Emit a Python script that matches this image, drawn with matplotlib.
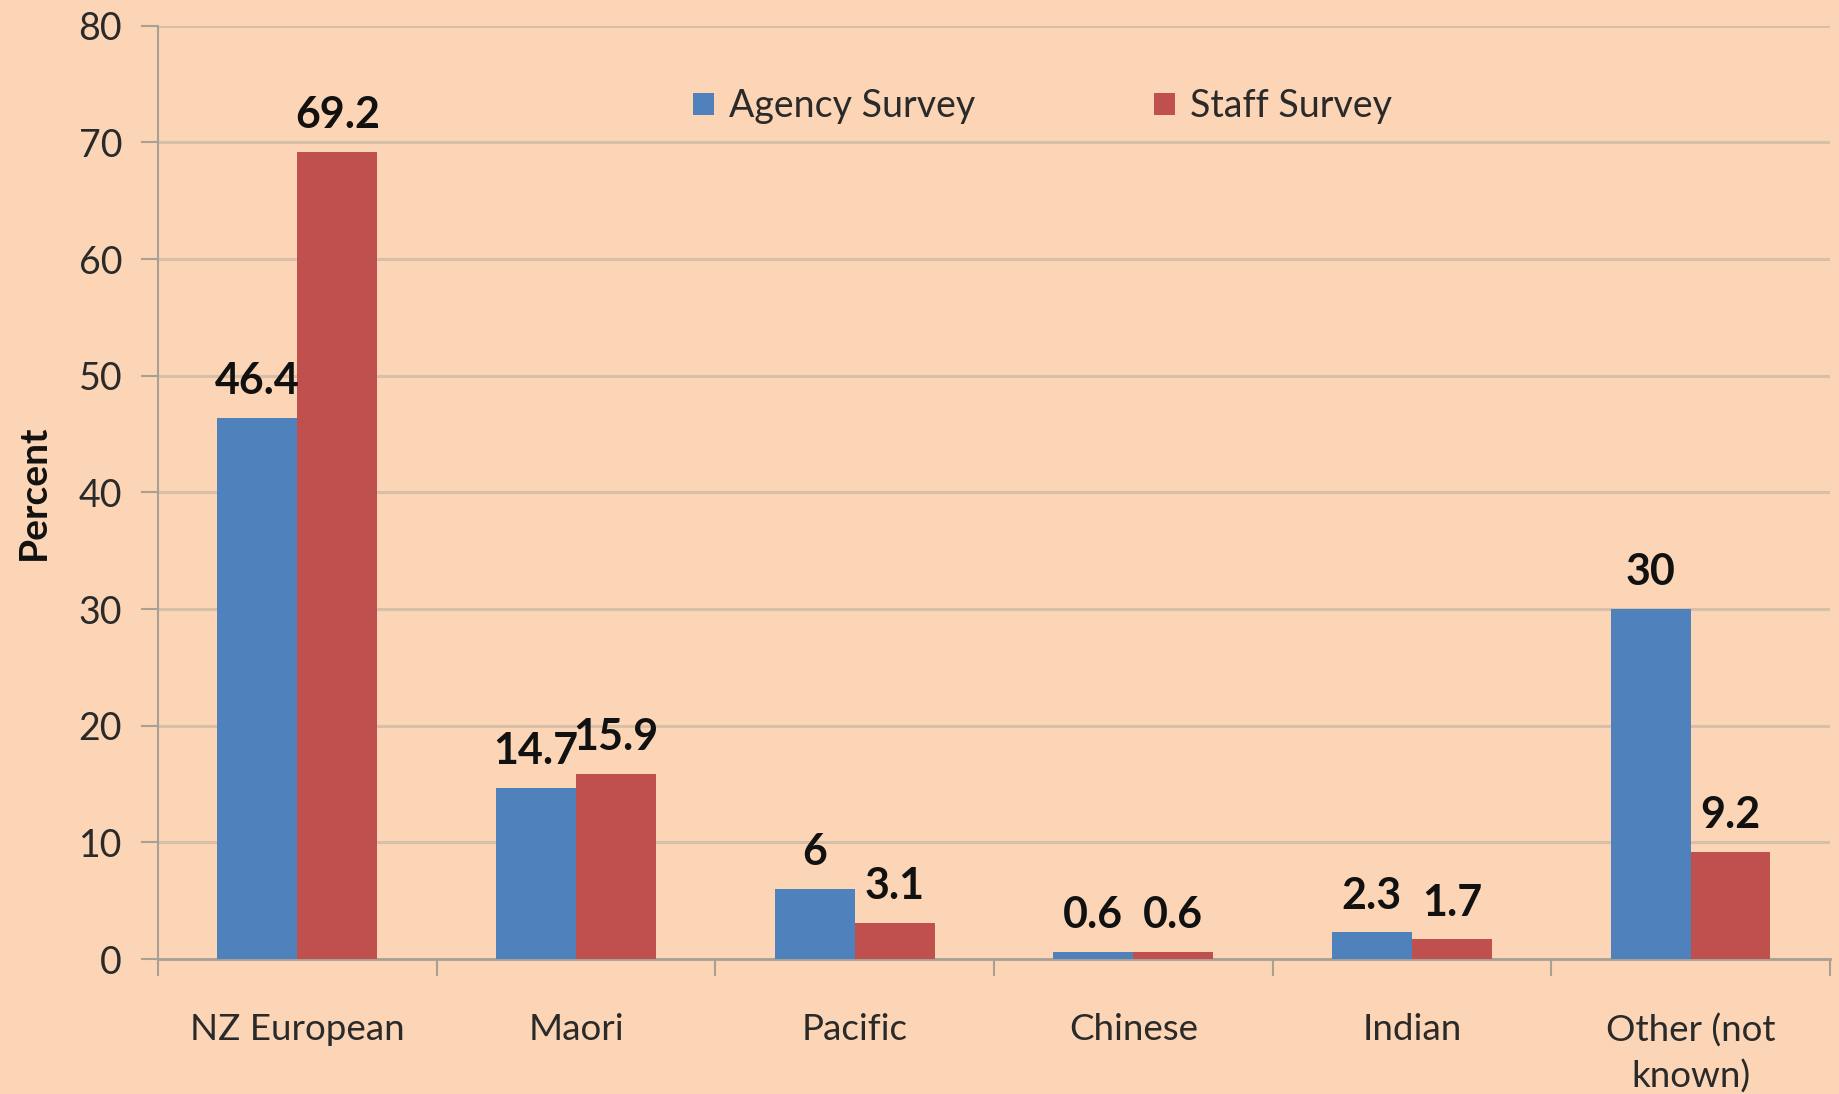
import matplotlib
matplotlib.use("Agg")
import matplotlib.pyplot as plt
import numpy as np

categories = ["NZ European", "Maori", "Pacific", "Chinese", "Indian", "Other (not\nknown)"]
agency = [46.4, 14.7, 6, 0.6, 2.3, 30]
staff = [69.2, 15.9, 3.1, 0.6, 1.7, 9.2]
agency_labels = ["46.4", "14.7", "6", "0.6", "2.3", "30"]
staff_labels = ["69.2", "15.9", "3.1", "0.6", "1.7", "9.2"]
series_names = ["Agency Survey", "Staff Survey"]
yticks = [0, 10, 20, 30, 40, 50, 60, 70, 80]

bg = "#FBD5B5"
blue = "#4F81BD"
red = "#C0504D"
grid = "#D8BFA8"
axis_c = "#A8A095"

plt.rcParams['font.family'] = ['Lato', 'DejaVu Sans']

fig = plt.figure(figsize=(18.39, 10.94), dpi=100, facecolor=bg)
ax = fig.add_axes([0.086, 0.1234, 0.909, 0.853])
ax.set_facecolor(bg)

x = np.arange(len(categories))
w = 0.287
b1 = ax.bar(x - w/2, agency, w, color=blue, label=series_names[0], zorder=3)
b2 = ax.bar(x + w/2, staff, w, color=red, label=series_names[1], zorder=3)

for bars, labs in ((b1, agency_labels), (b2, staff_labels)):
    for r, t in zip(bars, labs):
        ax.annotate(t, (r.get_x() + r.get_width()/2, r.get_height()),
                    xytext=(0, 12), textcoords="offset points",
                    ha="center", va="bottom", fontsize=31, fontweight="bold",
                    color="#111111", zorder=4)

ax.set_xlim(-0.5, len(categories) - 0.5)
ax.set_ylim(0, 80)
ax.set_yticks(yticks)
ax.set_yticklabels([str(v) for v in yticks], fontsize=27, color="#2a2a2a")
ax.yaxis.grid(True, color=grid, linewidth=2.2, zorder=0)
ax.set_axisbelow(True)

ax.set_xticks(x)
ax.set_xticklabels(categories, fontsize=26.5, color="#2a2a2a", linespacing=1.45, va="top")
ax.tick_params(axis='x', length=0, pad=39)
ax.set_xticks(np.arange(-0.5, len(categories)), minor=True)
ax.tick_params(axis='x', which='minor', length=12, width=1.5, color=axis_c)
ax.tick_params(axis='y', length=12, width=1.5, color=axis_c, pad=14)

for s in ("top", "right"):
    ax.spines[s].set_visible(False)
ax.spines["left"].set_color(axis_c)
ax.spines["left"].set_linewidth(1.5)
ax.spines["bottom"].set_color(axis_c)
ax.spines["bottom"].set_linewidth(2)

ax.set_ylabel("Percent", fontsize=28, fontweight="bold", color="#111111", labelpad=20)

leg = ax.legend(loc="center", bbox_to_anchor=(0.529, 0.914), ncol=2, frameon=False,
                fontsize=27, handlelength=0.55, handleheight=0.55, handletextpad=0.4,
                columnspacing=4.78)
for t in leg.get_texts():
    t.set_color("#2a2a2a")

fig.savefig("out.png", dpi=100, facecolor=bg)
